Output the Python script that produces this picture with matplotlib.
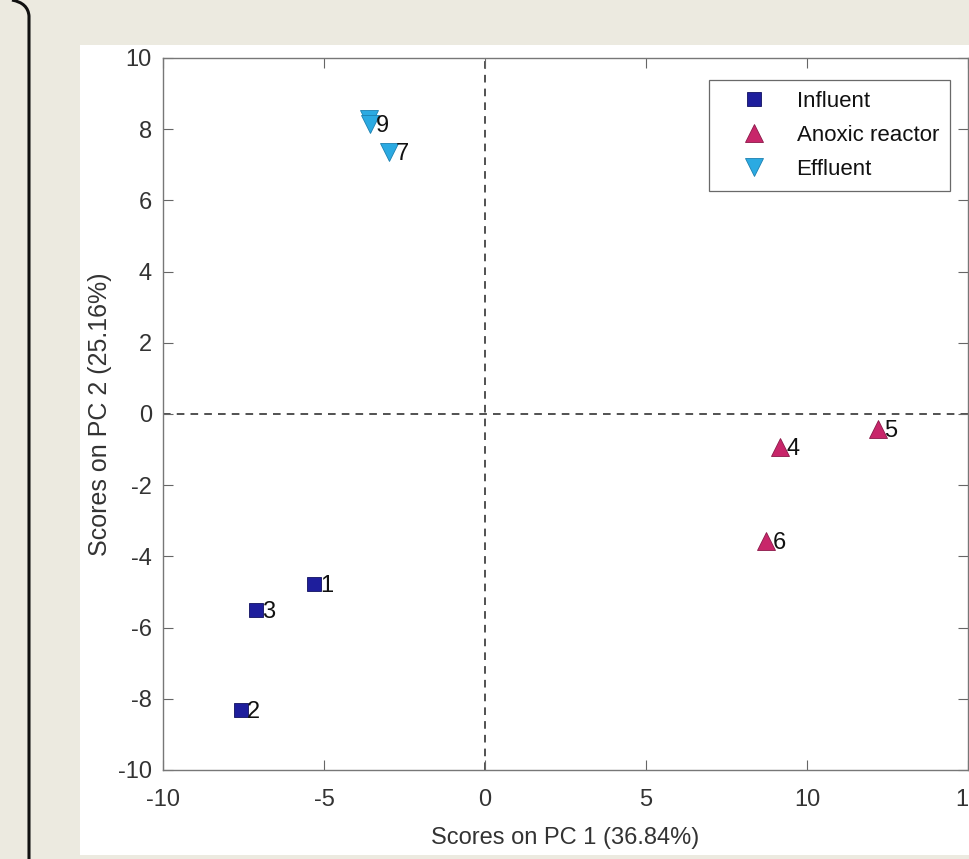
import numpy as np
import matplotlib.pyplot as plt
from matplotlib.patches import Rectangle
from matplotlib.path import Path
from matplotlib.patches import PathPatch

plt.rcParams['font.family'] = ['Liberation Sans', 'DejaVu Sans']
plt.rcParams['axes.unicode_minus'] = False

# PCA scores per sample group
influent_x = [-5.31, -7.58, -7.11]
influent_y = [-4.78, -8.31, -5.51]
influent_lab = ['1', '2', '3']

anoxic_x = [9.16, 12.2, 8.73]
anoxic_y = [-0.93, -0.42, -3.57]
anoxic_lab = ['4', '5', '6']

effluent_x = [-2.98, -3.60, -3.57]
effluent_y = [7.36, 8.28, 8.14]
effluent_lab = ['7', '', '9']

pc1_var = 36.84
pc2_var = 25.16

W, H = 970, 859
fig = plt.figure(figsize=(W / 100, H / 100), dpi=100)
fig.patch.set_facecolor('#ECEAE0')

# white plotting panel
fig.patches.append(Rectangle((80 / W, 4 / H), 1, (855 - 45) / H,
                             transform=fig.transFigure, facecolor='white',
                             edgecolor='none', zorder=0))

# rounded frame edge on the left
verts = [(12 / W, 1.0), (28 / W, 1 - 3 / H), (29 / W, 1 - 16 / H), (29 / W, 0.0)]
codes = [Path.MOVETO, Path.CURVE3, Path.CURVE3, Path.LINETO]
fig.patches.append(PathPatch(Path(verts, codes), transform=fig.transFigure,
                             fill=False, edgecolor='#111111', lw=2.2, zorder=1))

ax = fig.add_axes([163 / W, 1 - 770 / H, 805 / W, 712 / H])
ax.set_zorder(2)

ax.axvline(0, color='#222222', ls=(0, (5, 4)), lw=1.1, zorder=1)
ax.axhline(0, color='#222222', ls=(0, (5, 4)), lw=1.1, zorder=1)

ax.plot(influent_x, influent_y, 's', ms=9.5, mfc='#1E1E9C', mec='#101060',
        mew=0.6, ls='none', label='Influent', zorder=3)
ax.plot(anoxic_x, anoxic_y, '^', ms=12.5, mfc='#C8266A', mec='#8A1848',
        mew=0.6, ls='none', label='Anoxic reactor', zorder=3)
ax.plot(effluent_x, effluent_y, 'v', ms=12.5, mfc='#2BAAE2', mec='#1C80B0',
        mew=0.6, ls='none', label='Effluent', zorder=3)

for xs, ys, labs in [(influent_x, influent_y, influent_lab),
                     (anoxic_x, anoxic_y, anoxic_lab),
                     (effluent_x, effluent_y, effluent_lab)]:
    for x, y, t in zip(xs, ys, labs):
        ax.annotate(t, (x, y), xytext=(4.5, -1.5), textcoords='offset points',
                    ha='left', va='center', fontsize=17, color='#111111',
                    zorder=4)

ax.set_xlim(-10, 15)
ax.set_ylim(-10, 10)
ax.set_xticks(np.arange(-10, 16, 5))
ax.set_yticks(np.arange(-10, 11, 2))
ax.tick_params(direction='in', top=True, right=True, length=7, width=0.8,
               color='#666666', labelsize=17, labelcolor='#333333')
ax.tick_params(axis='x', pad=14)
ax.tick_params(axis='y', pad=8)
for s in ax.spines.values():
    s.set_color('#777777')
    s.set_linewidth(1.0)

ax.set_xlabel(f'Scores on PC 1 ({pc1_var:.2f}%)', fontsize=17,
              color='#333333', labelpad=11)
ax.set_ylabel(f'Scores on PC 2 ({pc2_var:.2f}%)', fontsize=18,
              color='#333333', labelpad=4)

leg = ax.legend(loc='upper right',
                bbox_to_anchor=((950 - 163) / 805, 1 - 22 / 712),
                bbox_transform=ax.transAxes, fontsize=16, frameon=True,
                fancybox=False, edgecolor='#444444', handletextpad=0.35,
                borderpad=0.5, labelspacing=0.58, handlelength=3.1,
                borderaxespad=0)
leg.get_frame().set_linewidth(0.9)
for t in leg.get_texts():
    t.set_color('#111111')

fig.savefig('out.png', dpi=100, facecolor=fig.get_facecolor())
